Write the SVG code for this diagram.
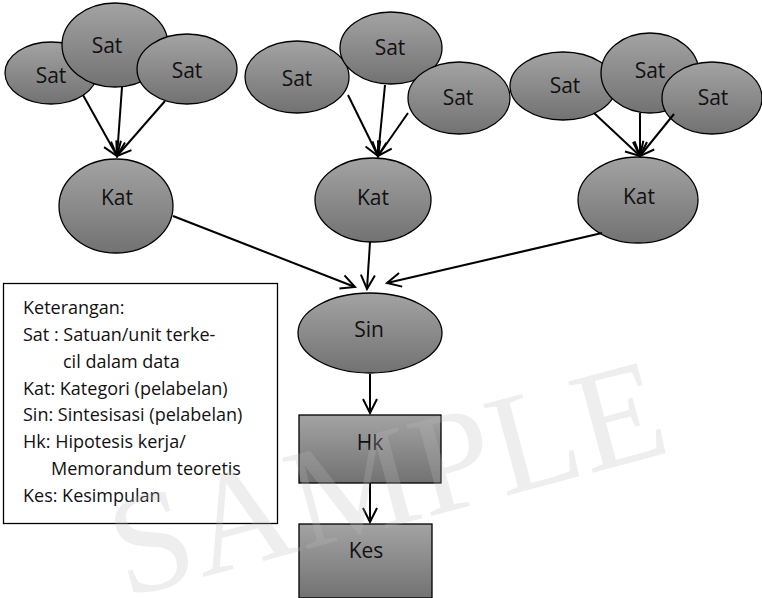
<svg xmlns="http://www.w3.org/2000/svg" width="762" height="598" viewBox="0 0 762 598">
<style>
.n{stroke:#000;stroke-width:1.3;fill:url(#g)}
.t{font-family:"Open Sans","Noto Sans","Liberation Sans",sans-serif;font-size:21px;fill:#111;text-anchor:middle}
.lg{font-family:"Open Sans","Noto Sans","Liberation Sans",sans-serif;font-size:18px;fill:#111}
.c{stroke:#000;stroke-width:2;fill:none;marker-end:url(#a)}
</style>
<defs>
<linearGradient id="g" x1="0" y1="0" x2="0" y2="1">
<stop offset="0" stop-color="#a3a3a3"/>
<stop offset="1" stop-color="#727272"/>
</linearGradient>
<marker id="a" markerUnits="userSpaceOnUse" markerWidth="18" markerHeight="18" viewBox="0 0 18 18" refX="16" refY="9" orient="auto">
<path d="M2,2 L16,9 L2,16" fill="none" stroke="#000" stroke-width="2"/>
</marker>
</defs>
<rect width="762" height="598" fill="#fff"/>
<g id="sat1a"><ellipse class="n" cx="51" cy="73" rx="46" ry="31"/><text class="t" x="51" y="83">Sat</text></g>
<g id="sat1b"><ellipse class="n" cx="115" cy="45" rx="53" ry="42"/><text class="t" x="107" y="53">Sat</text></g>
<g id="sat1c"><ellipse class="n" cx="187" cy="69" rx="50" ry="35"/><text class="t" x="187" y="78">Sat</text></g>
<g id="sat2a"><ellipse class="n" cx="297" cy="77" rx="52" ry="36"/><text class="t" x="297" y="86">Sat</text></g>
<g id="sat2b"><ellipse class="n" cx="391" cy="48" rx="51" ry="36"/><text class="t" x="390" y="55">Sat</text></g>
<g id="sat2c"><ellipse class="n" cx="459" cy="98" rx="51" ry="36"/><text class="t" x="458" y="105">Sat</text></g>
<g id="sat3a"><ellipse class="n" cx="563" cy="86" rx="53" ry="34"/><text class="t" x="565" y="93">Sat</text></g>
<g id="sat3b"><ellipse class="n" cx="650" cy="73" rx="49" ry="40"/><text class="t" x="650" y="78">Sat</text></g>
<g id="sat3c"><ellipse class="n" cx="712" cy="98" rx="50" ry="36"/><text class="t" x="713" y="105">Sat</text></g>
<g id="kat1"><ellipse class="n" cx="116" cy="206" rx="57" ry="47"/><text class="t" x="117" y="205">Kat</text></g>
<g id="kat2"><ellipse class="n" cx="373" cy="200" rx="58" ry="42"/><text class="t" x="373" y="205">Kat</text></g>
<g id="kat3"><ellipse class="n" cx="638" cy="200" rx="60" ry="43"/><text class="t" x="639" y="204">Kat</text></g>
<g id="sin"><ellipse class="n" cx="370" cy="333" rx="72" ry="40"/><text class="t" x="369" y="337">Sin</text></g>
<g id="hk"><rect class="n" x="299" y="415" width="142" height="68"/><text class="t" x="370" y="450">Hk</text></g>
<g id="kes"><rect class="n" x="299" y="524" width="133" height="74"/><text class="t" x="366" y="558">Kes</text></g>
<g id="legend">
<rect x="3.5" y="283.5" width="274" height="240" fill="#fff" stroke="#000" stroke-width="1.3"/>
<text class="lg" x="23" y="314">Keterangan:</text>
<text class="lg" x="23" y="341">Sat : Satuan/unit terke-</text>
<text class="lg" x="63" y="368">cil dalam data</text>
<text class="lg" x="23" y="395">Kat: Kategori (pelabelan)</text>
<text class="lg" x="23" y="421">Sin: Sintesisasi (pelabelan)</text>
<text class="lg" x="23" y="448">Hk: Hipotesis kerja/</text>
<text class="lg" x="51" y="475">Memorandum teoretis</text>
<text class="lg" x="23" y="502">Kes: Kesimpulan</text>
</g>
<g id="connectors">
<line class="c" x1="83" y1="95" x2="117" y2="156"/>
<line class="c" x1="122" y1="87" x2="117" y2="156"/>
<line class="c" x1="165" y1="101" x2="117" y2="156"/>
<line class="c" x1="348" y1="95" x2="378" y2="156"/>
<line class="c" x1="385" y1="85" x2="378" y2="156"/>
<line class="c" x1="408" y1="113" x2="378" y2="156"/>
<line class="c" x1="594" y1="113" x2="640" y2="156"/>
<line class="c" x1="640" y1="113" x2="640" y2="156"/>
<line class="c" x1="674" y1="114" x2="640" y2="156"/>
<line class="c" x1="173" y1="216" x2="355" y2="287"/>
<line class="c" x1="370" y1="242" x2="367" y2="289"/>
<line class="c" x1="602" y1="233" x2="387" y2="283"/>
<line class="c" x1="370" y1="374" x2="370" y2="413"/>
<line class="c" x1="370" y1="483" x2="370" y2="522"/>
</g>
<text x="125" y="598" transform="rotate(-15 125 598)" font-family="'Liberation Serif',serif" font-size="144" fill="#bbbbbb" fill-opacity="0.25">SAMPLE</text>
</svg>
